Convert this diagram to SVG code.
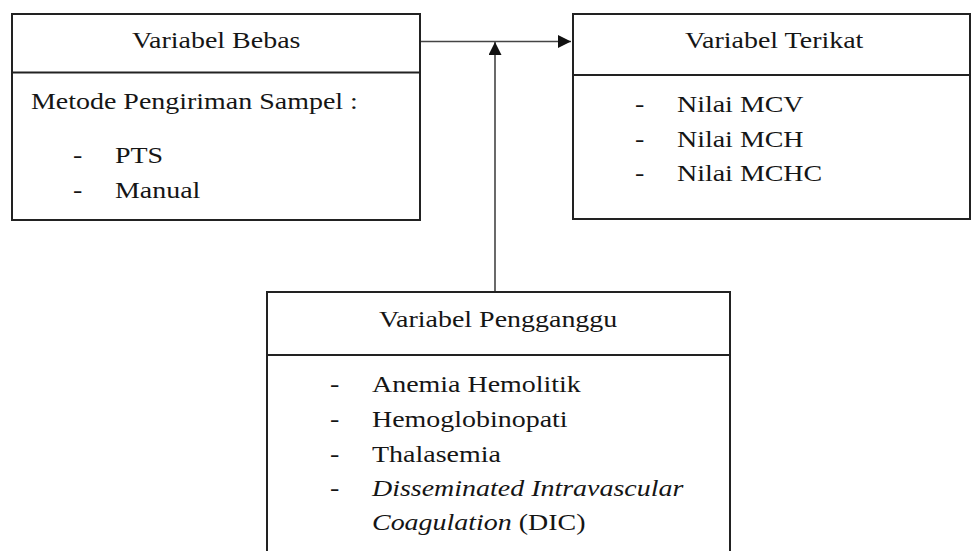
<svg xmlns="http://www.w3.org/2000/svg" width="971" height="551" viewBox="0 0 971 551">
<style>
.box{fill:#fff;stroke:#222;stroke-width:2}
.div{stroke:#222;stroke-width:2}
.conn{stroke:#444;stroke-width:1.6;fill:none}
.it{font-style:italic}
</style>
<defs>
<marker id="arr" markerWidth="14" markerHeight="14" refX="13" refY="6.5" orient="auto" markerUnits="userSpaceOnUse">
<path d="M0,0 L13,6.5 L0,13 Z" fill="#111"/>
</marker>
</defs>
<rect width="971" height="551" fill="#fff"/>
<g id="connectors">
<line class="conn" x1="420" y1="41.5" x2="571" y2="41.5" marker-end="url(#arr)"/>
<line class="conn" x1="495" y1="292" x2="495" y2="42" marker-end="url(#arr)"/>
</g>
<g id="variabel-bebas" font-family="Liberation Serif, Times New Roman, serif" font-size="24" fill="#151515">
<rect class="box" x="12" y="14" width="408" height="206"/>
<line class="div" x1="12" y1="72.5" x2="420" y2="72.5"/>
<text transform="matrix(1.165 0 0 1 132 48)">Variabel Bebas</text>
<text transform="matrix(1.165 0 0 1 31 109)">Metode Pengiriman Sampel :</text>
<text transform="matrix(1.165 0 0 1 73 163)">-</text>
<text transform="matrix(1.165 0 0 1 115 163)">PTS</text>
<text transform="matrix(1.165 0 0 1 73 198)">-</text>
<text transform="matrix(1.165 0 0 1 115 198)">Manual</text>
</g>
<g id="variabel-terikat" font-family="Liberation Serif, Times New Roman, serif" font-size="24" fill="#151515">
<rect class="box" x="573" y="14" width="397" height="205"/>
<line class="div" x1="573" y1="75" x2="970" y2="75"/>
<text transform="matrix(1.165 0 0 1 685 48)">Variabel Terikat</text>
<text transform="matrix(1.165 0 0 1 635 112)">-</text>
<text transform="matrix(1.165 0 0 1 677 112)">Nilai MCV</text>
<text transform="matrix(1.165 0 0 1 635 147)">-</text>
<text transform="matrix(1.165 0 0 1 677 147)">Nilai MCH</text>
<text transform="matrix(1.165 0 0 1 635 181)">-</text>
<text transform="matrix(1.165 0 0 1 677 181)">Nilai MCHC</text>
</g>
<g id="variabel-pengganggu" font-family="Liberation Serif, Times New Roman, serif" font-size="24" fill="#151515">
<rect class="box" x="267" y="292" width="463" height="275"/>
<line class="div" x1="267" y1="355" x2="730" y2="355"/>
<text transform="matrix(1.165 0 0 1 379 327)">Variabel Pengganggu</text>
<text transform="matrix(1.165 0 0 1 330 392)">-</text>
<text transform="matrix(1.165 0 0 1 372 392)">Anemia Hemolitik</text>
<text transform="matrix(1.165 0 0 1 330 427)">-</text>
<text transform="matrix(1.165 0 0 1 372 427)">Hemoglobinopati</text>
<text transform="matrix(1.165 0 0 1 330 462)">-</text>
<text transform="matrix(1.165 0 0 1 372 462)">Thalasemia</text>
<text transform="matrix(1.165 0 0 1 330 496)">-</text>
<text transform="matrix(1.165 0 0 1 372 496)" class="it">Disseminated Intravascular</text>
<text transform="matrix(1.165 0 0 1 372 530)"><tspan class="it">Coagulation</tspan> (DIC)</text>
</g>
</svg>
